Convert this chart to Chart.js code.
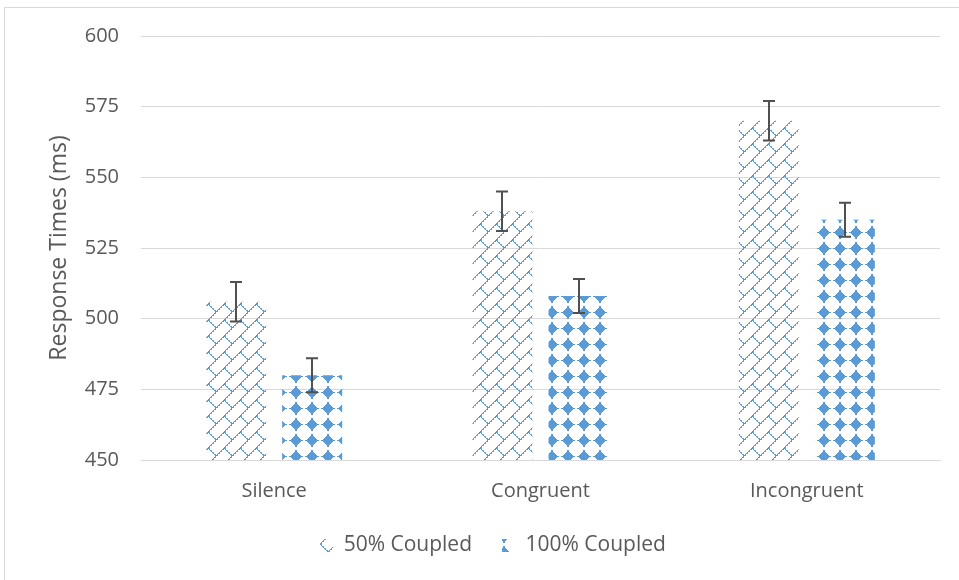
<!DOCTYPE html>
<html>
<head>
<meta charset="utf-8">
<script src="https://cdn.jsdelivr.net/npm/chart.js@4.4.1/dist/chart.umd.min.js"></script>
<style>
  body { margin: 0; background: #fff; }
  #wrap { width: 959px; height: 580px; position: relative; }
</style>
</head>
<body>
<div id="wrap"><canvas id="myChart" width="959" height="580"></canvas></div>
<script>
var categories = ["Silence", "Congruent", "Incongruent"];
var coupled50 = [506, 538, 570];
var coupled100 = [480, 508, 535];
var err50 = [7, 7, 7];
var err100 = [6, 6, 6];
var seriesNames = ["50% Coupled", "100% Coupled"];

var blue = "#5B9BD5";
var grey = "#595959";

var canvas = document.getElementById("myChart");
var ctx = canvas.getContext("2d");

function brickPattern() {
  var c = document.createElement("canvas");
  c.width = 16; c.height = 16;
  var g = c.getContext("2d");
  g.fillStyle = blue;
  // long up-right diagonal, stepped dashes
  for (var i = 0; i < 16; i++) g.fillRect(i, 15 - i, i % 2 ? 1 : 2, 1);
  // short down-right piece (staggered bricks)
  for (var k = 0; k < 8; k++) g.fillRect(k, k, k % 2 ? 1 : 2, 1);
  return ctx.createPattern(c, "repeat");
}

function diamondPattern() {
  var c = document.createElement("canvas");
  c.width = 16; c.height = 16;
  var g = c.getContext("2d");
  g.fillStyle = blue;
  var rows = [2, 2, 4, 6, 8, 10, 14, 10, 8, 6, 4, 2, 2];
  for (var r = 0; r < rows.length; r++) {
    g.fillRect(8 - rows[r] / 2, 2 + r, rows[r], 1);
  }
  return ctx.createPattern(c, "repeat");
}

var errorBars = {
  id: "errorBars",
  afterDatasetsDraw: function(chart) {
    var c = chart.ctx;
    var y = chart.scales.y;
    c.save();
    c.strokeStyle = "#505050";
    c.lineWidth = 2;
    chart.data.datasets.forEach(function(ds, i) {
      var meta = chart.getDatasetMeta(i);
      meta.data.forEach(function(bar, j) {
        var v = ds.data[j], e = ds.errors[j];
        var t = y.getPixelForValue(v + e), b = y.getPixelForValue(v - e);
        var x = Math.round(bar.x);
        c.beginPath();
        c.moveTo(x, t); c.lineTo(x, b);
        c.moveTo(x - 6, t); c.lineTo(x + 6, t);
        c.moveTo(x - 6, b); c.lineTo(x + 6, b);
        c.stroke();
      });
    });
    c.restore();
  }
};

var frame = {
  id: "frame",
  beforeDraw: function(chart) {
    var c = chart.ctx;
    c.save();
    c.fillStyle = "#fff";
    c.fillRect(0, 0, chart.width, chart.height);
    c.strokeStyle = "#D9D9D9";
    c.lineWidth = 1;
    c.strokeRect(4.5, 7.5, 1000, 1000);
    c.restore();
  }
};

var font = { family: "'Open Sans', sans-serif", size: 20 };

var myBarChart = new Chart(ctx, {
  type: "bar",
  data: {
    labels: categories,
    datasets: [
      { label: seriesNames[0], data: coupled50, errors: err50, backgroundColor: brickPattern(), borderWidth: 0 },
      { label: seriesNames[1], data: coupled100, errors: err100, backgroundColor: diamondPattern(), borderWidth: 0 }
    ]
  },
  options: {
    responsive: false,
    animation: false,
    devicePixelRatio: 1,
    layout: { padding: { top: 36, right: 19, bottom: 14, left: 46 } },
    categoryPercentage: 0.571,
    barPercentage: 0.789,
    plugins: {
      tooltip: { enabled: false },
      legend: {
        position: "bottom",
        labels: { color: grey, font: { family: font.family, size: 21 }, boxWidth: 13, boxHeight: 13, padding: 30 }
      }
    },
    scales: {
      x: {
        grid: { display: false },
        border: { display: true, color: "#D9D9D9", width: 1 },
        ticks: { color: grey, font: font, padding: 11 },
        afterFit: function(scale) { scale.height = 45; }
      },
      y: {
        min: 450,
        max: 600,
        ticks: { stepSize: 25, color: grey, font: font, padding: 22 },
        grid: { color: "#D9D9D9", lineWidth: 1, drawTicks: false },
        border: { display: false },
        title: {
          display: true,
          text: "Response Times (ms)",
          color: grey,
          font: { family: font.family, size: 23 },
          padding: { top: 0, bottom: 0 }
        },
        afterFit: function(scale) { scale.width = 95; }
      }
    }
  },
  plugins: [frame, errorBars]
});
</script>
</body>
</html>
